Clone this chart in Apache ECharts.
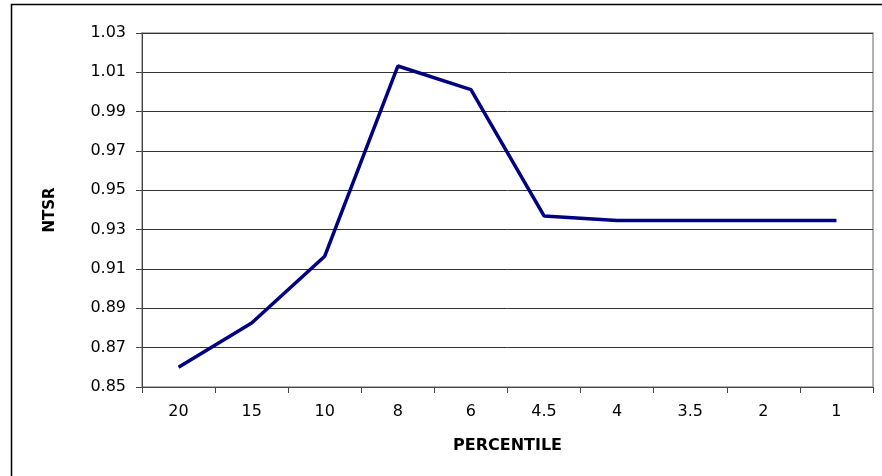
<!DOCTYPE html>
<html lang="en">
<head>
    <meta charset="UTF-8">
    <title>NTSR by percentile</title>
    <style>
        html, body { margin: 0; padding: 0; background: #fff; }
        #main { width: 882px; height: 476px; }
    </style>
</head>
<body>
<div id="main"></div>
<script src="https://cdn.jsdelivr.net/npm/echarts@6/dist/echarts.min.js"></script>
<script>
    var percentiles = ['20', '15', '10', '8', '6', '4.5', '4', '3.5', '2', '1'];
    var ntsr = [0.860, 0.8825, 0.9165, 1.0132, 1.0012, 0.937, 0.9346, 0.9346, 0.9346, 0.9346];
    var yTicks = { min: 0.85, max: 1.03, step: 0.02 };

    var myChart = echarts.init(document.getElementById('main'));
    var font = 'DejaVu Sans, Arial, sans-serif';
    var option = {
        backgroundColor: '#ffffff',
        animation: false,
        // outer chart frame; its right and bottom edges fall outside the window
        graphic: [{
            type: 'rect',
            left: 9,
            top: 2,
            shape: { width: 890, height: 490 },
            style: { fill: 'none', stroke: '#000', lineWidth: 1.5 },
            silent: true
        }],
        grid: {
            left: 142,
            top: 33,
            right: 9,
            bottom: 89,
            show: true,
            borderColor: '#999',
            borderWidth: 1.5
        },
        xAxis: {
            type: 'category',
            data: percentiles,
            boundaryGap: true,
            name: 'PERCENTILE',
            nameLocation: 'middle',
            nameGap: 51,
            nameTextStyle: { fontFamily: font, fontSize: 16, fontWeight: 'bold', color: '#000' },
            axisLine: { lineStyle: { color: '#444', width: 1 } },
            axisTick: { show: true, length: 6, inside: false, lineStyle: { color: '#444' } },
            axisLabel: { fontFamily: font, fontSize: 16, color: '#000', margin: 17 },
            splitLine: { show: false }
        },
        yAxis: {
            type: 'value',
            min: yTicks.min,
            max: yTicks.max,
            interval: yTicks.step,
            name: 'NTSR',
            nameLocation: 'middle',
            nameGap: 84,
            nameRotate: 90,
            nameTextStyle: { fontFamily: font, fontSize: 15, fontWeight: 'bold', color: '#000' },
            axisLine: { show: true, lineStyle: { color: '#444', width: 1 } },
            axisTick: { show: true, length: 6, lineStyle: { color: '#444' } },
            axisLabel: {
                fontFamily: font, fontSize: 16, color: '#000', margin: 16,
                formatter: function (v) { return v.toFixed(2); }
            },
            splitLine: { show: true, lineStyle: { color: '#333', width: 1 } }
        },
        series: [{
            type: 'line',
            data: ntsr,
            symbol: 'none',
            lineStyle: { color: '#000080', width: 3.5 },
            itemStyle: { color: '#000080' }
        }]
    };
    myChart.setOption(option);
</script>
</body>
</html>
